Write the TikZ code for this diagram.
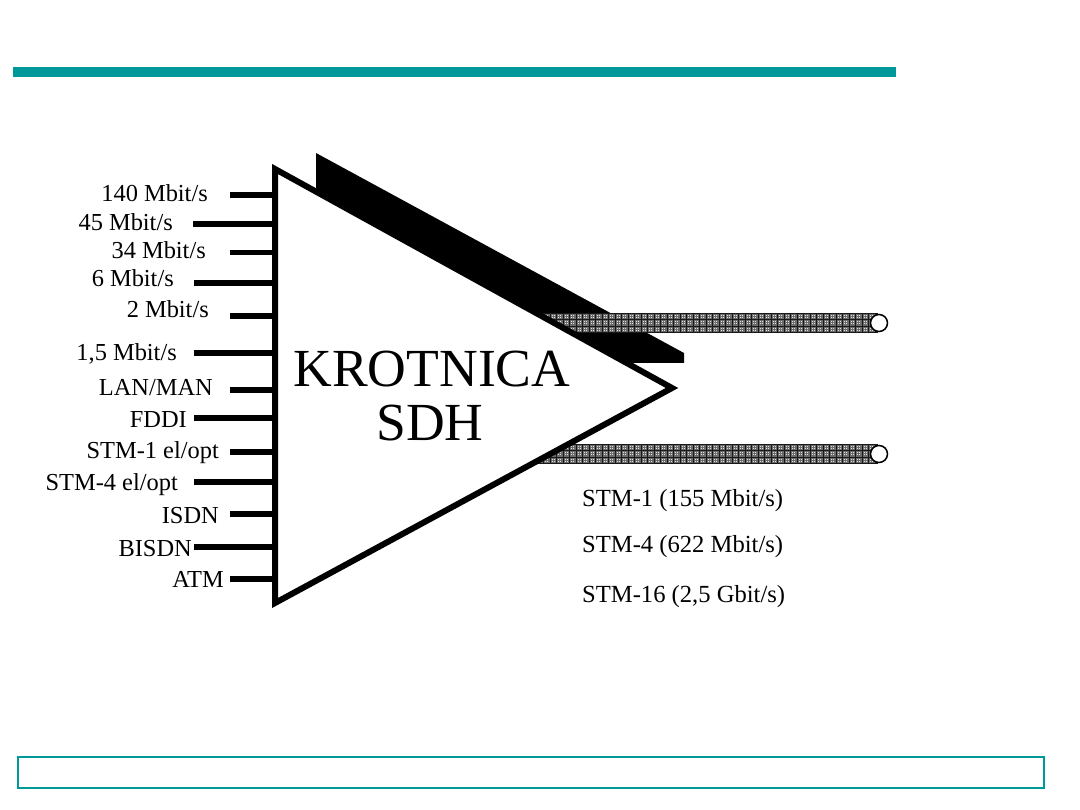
\documentclass[tikz,border=0pt]{standalone}
\usepackage{fontspec}
\setmainfont{Liberation Serif}
\definecolor{slideteal}{HTML}{009999}
\tikzset{
  wire/.style={line width=5.5pt},
  inlabel/.style={anchor=base east,inner sep=0pt,font=\fontsize{24.4}{28}\selectfont},
  ratelabel/.style={anchor=base west,inner sep=0pt,font=\fontsize{24.6}{28}\selectfont},
  titlelabel/.style={anchor=base,inner sep=0pt,font=\fontsize{53.6}{60}\selectfont},
  port/.style={circle,draw=black,fill=white,line width=1.5pt,minimum size=17pt,inner sep=0pt},
}
% Textured output bar: mid-grey ground, dark lattice, pale dots in each cell
\newcommand{\texturedbar}[2]{%
  \fill[black!58] (530,#1) rectangle (878,#2);
  \foreach \py in {0.5,6.8,13.1,19.4}{
    \fill[black!90] (530,{#1+\py-0.5}) rectangle (878,{#1+\py+0.5});
  }
  \foreach \px in {530,536.5,...,876}{
    \fill[black!90] ({\px},#1) rectangle ({\px+1},#2);
    \foreach \py in {2.2,4.2,8.5,10.5,14.8,16.8}{
      \fill[white!88!black] ({\px+2.2},{#1+\py}) rectangle ({\px+3.2},{#1+\py+1});
      \fill[white!88!black] ({\px+4.3},{#1+\py}) rectangle ({\px+5.3},{#1+\py+1});
    }
  }
}
\begin{document}
\begin{tikzpicture}[x=1pt,y=-1pt]
\useasboundingbox (0,0) rectangle (1080,810);

% Slide furniture
\fill[slideteal] (13,67) rectangle (896,77);
\draw[slideteal,line width=2pt] (18,756.5) rectangle (1044,787.5);

% Shadow band behind everything else
\fill[black] (316,153) -- (684,353) -- (684,363) -- (620,363) -- (316,190) -- cycle;

% Output bars and their end ports
\texturedbar{313}{333}
\texturedbar{444}{464}
\node[port] (portA) at (879,323) {};
\node[port] (portB) at (879,454) {};

% The multiplexer triangle
\draw[line width=6pt,fill=white,miter limit=10]
  (275,169) coordinate (apexTop) -- (672,388) coordinate (apexTip)
  -- (275,603) coordinate (apexBot) -- cycle;

\node[titlelabel] (title1) at (432,387) {KROTNICA};
\node[titlelabel] (title2) at (430,441) {SDH};

% Tributary inputs: label text, line start and line height
\foreach \name/\txt/\tx/\ty/\wx/\wy in {
  a/140 Mbit\slash s/208/202/230/195,
  b/45 Mbit\slash s/173/231/193/224,
  c/34 Mbit\slash s/206/259/230/252.5,
  d/6 Mbit\slash s/174/287/194/283,
  e/2 Mbit\slash s/209/318/230/316,
  f/{1,5 Mbit\slash s}/177/361/194/353,
  g/LAN\slash MAN/213/396/230/390,
  h/FDDI/187/428/194/418,
  i/STM-1 el\slash opt/219/458/230/452,
  j/STM-4 el\slash opt/178/490/194/482,
  k/ISDN/219/523/230/514,
  l/BISDN/192/556/194/547,
  m/ATM/224/587/230/579}{
  \node[inlabel] (lab\name) at (\tx,\ty) {\txt};
  \coordinate (start\name) at (\wx,\wy);
  \draw[wire] (start\name) -- (apexTop |- start\name);
}

% Line rates
\node[ratelabel] (rate1) at (582,507) {STM-1 (155 Mbit/s)};
\node[ratelabel] (rate2) at (582,552) {STM-4 (622 Mbit/s)};
\node[ratelabel] (rate3) at (582,602) {STM-16 (2,5 Gbit/s)};
\end{tikzpicture}
\end{document}
